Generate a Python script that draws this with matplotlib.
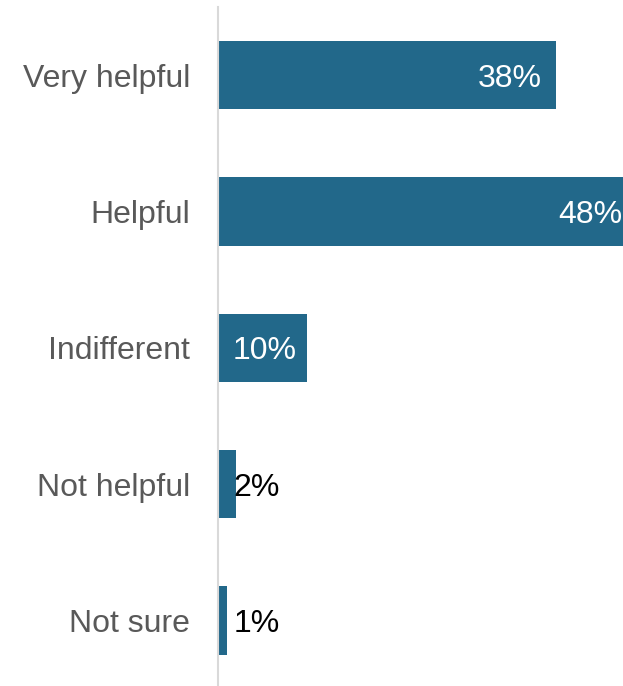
import matplotlib.pyplot as plt
import numpy as np

plt.rcParams['font.family'] = ['Liberation Sans', 'DejaVu Sans']

categories = ['Very helpful', 'Helpful', 'Indifferent', 'Not helpful', 'Not sure']
values = [38, 48, 10, 2, 1]
labels = ['38%', '48%', '10%', '2%', '1%']

bar_color = '#22688a'

fig = plt.figure(figsize=(6.23, 6.86), dpi=100)
ax = fig.add_axes([218 / 623, 0, 1 - 218 / 623, 1 - 7 / 686])

y = np.arange(len(categories))
ax.barh(y, values, height=0.5, color=bar_color)

xmax = 405 / 8.89
ax.set_xlim(0, xmax)
ax.set_ylim(4.48, -0.5)

for yi, v, lab in zip(y, values, labels):
    if v >= 5:
        # inside label, right aligned near visible bar end
        end = min(v, xmax)
        pad = 0.05 if v > xmax else (1.6 if v > 20 else 1.2)
        ax.text(end - pad, yi, lab, ha='right', va='center_baseline',
                color='white', fontsize=23)
    else:
        ax.text(1.75, yi, lab, ha='left', va='center_baseline', color='black', fontsize=23)

ax.set_yticks(y)
ax.set_yticklabels(categories, fontsize=23, color='#595959')
ax.tick_params(axis='y', length=0, pad=20)
ax.set_xticks([])

for s in ['top', 'right', 'bottom']:
    ax.spines[s].set_visible(False)
ax.spines['left'].set_color('#d9d9d9')
ax.spines['left'].set_linewidth(1.5)

fig.savefig('out.png', dpi=100)
